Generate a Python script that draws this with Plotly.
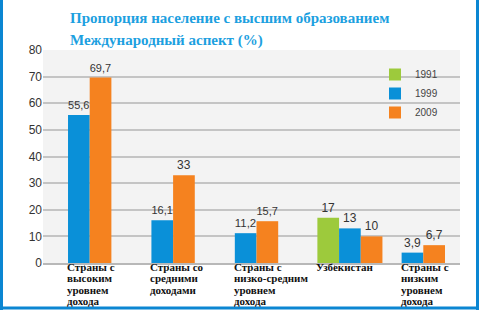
import plotly.graph_objects as go

categories = [
    "Страны с<br>высоким<br>уровнем<br>дохода",
    "Страны со<br>средними<br>доходами",
    "Страны с<br>низко-средним<br>уровнем<br>дохода",
    "Узбекистан",
    "Страны с<br>низким<br>уровнем<br>дохода",
]
years = ["1991", "1999", "2009"]
values_1991 = [None, None, None, 17, None]
values_1999 = [55.6, 16.1, 11.2, 13, 3.9]
values_2009 = [69.7, 33, 15.7, 10, 6.7]
y_ticks = [0, 10, 20, 30, 40, 50, 60, 70, 80]
title_lines = ["Пропорция население с высшим образованием", "Международный аспект (%)"]

colors = {"1991": "#9dca3c", "1999": "#0a90d8", "2009": "#f5821f"}
series = {"1991": values_1991, "1999": values_1999, "2009": values_2009}
SERIF = "Liberation Serif"
SANS = "Liberation Sans"

BW = 0.26
xs = list(range(len(categories)))

def fmt(v):
    if v is None:
        return ""
    return ("%g" % v).replace(".", ",")

# per-point offsets so that present bars are centred in each group
offsets = {y: [] for y in years}
first_edge = []
for i in xs:
    present = [y for y in years if series[y][i] is not None]
    n = len(present)
    shift = 0.06 if n == 2 else 0.18
    start = -n * BW / 2 + shift
    first_edge.append(i + start)
    for y in years:
        offsets[y].append(start + present.index(y) * BW if y in present else 0)

fig = go.Figure()
for y in years:
    fig.add_trace(go.Bar(
        x=xs, y=series[y], name=y,
        marker=dict(color=colors[y], line=dict(width=0)),
        width=BW, offset=offsets[y],
        text=[fmt(v) for v in series[y]], textposition="outside",
        textfont=dict(family=SANS, size=12, color="#333333"),
        cliponaxis=False,
    ))

L, R, T, B = 43, 20, 50, 48
W, H = 480, 311
pw, ph = W - L - R, H - T - B

def px_x(px):
    return (px - L) / pw

def px_y(py):
    return (H - B - py) / ph

annotations = []
LINE_H = 11.3
for i, c in enumerate(categories):
    for k, line in enumerate(c.split("<br>")):
        annotations.append(dict(
            x=first_edge[i], y=px_y(267 + k * LINE_H), xref="x", yref="paper",
            text="<b>%s</b>" % line, showarrow=False,
            xanchor="left", yanchor="middle", xshift=-3,
            font=dict(family=SERIF, size=11, color="#111111"),
        ))
for line, ypx in zip(title_lines, [18, 40]):
    annotations.append(dict(
        x=px_x(68), y=px_y(ypx), xref="paper", yref="paper", text="<b>%s</b>" % line,
        showarrow=False, xanchor="left", yanchor="middle",
        font=dict(family=SERIF, size=15, color="#1ca0e0"),
    ))

frame_col = "#0b86d2"
shapes = [
    dict(type="line", xref="paper", yref="paper", x0=px_x(1.5), x1=px_x(1.5), y0=px_y(0), y1=px_y(310),
         line=dict(color=frame_col, width=3)),
    dict(type="line", xref="paper", yref="paper", x0=px_x(477.5), x1=px_x(477.5), y0=px_y(0), y1=px_y(310),
         line=dict(color=frame_col, width=3)),
    dict(type="line", xref="paper", yref="paper", x0=px_x(0), x1=px_x(479), y0=px_y(308), y1=px_y(308),
         line=dict(color=frame_col, width=3)),
]

fig.update_layout(
    width=W, height=H,
    margin=dict(l=L, r=R, t=T, b=B),
    paper_bgcolor="white",
    plot_bgcolor="#f3f3f3",
    barmode="overlay",
    showlegend=True,
    legend=dict(x=px_x(375), y=px_y(60), xanchor="left", yanchor="top",
                bgcolor="rgba(0,0,0,0)", font=dict(family=SANS, size=10, color="#444444"),
                tracegroupgap=0),
    annotations=annotations,
    shapes=shapes,
    xaxis=dict(range=[-0.5, 4.5], tickvals=xs, showticklabels=False, showgrid=False,
               ticks="outside", tickson="boundaries", ticklen=4, tickcolor="#b0b0b0",
               showline=True, linecolor="#b8b8b8", linewidth=2, zeroline=False),
    yaxis=dict(range=[0, 80], tickvals=y_ticks, showgrid=True, gridcolor="#c4c4c4", gridwidth=2,
               zeroline=False, showline=False, ticks="",
               tickfont=dict(family=SANS, size=12, color="#333333")),
)

fig.write_html("out.html", config={"displayModeBar": False},
               post_script="document.body.style.margin='0';document.body.style.overflow='hidden';")
